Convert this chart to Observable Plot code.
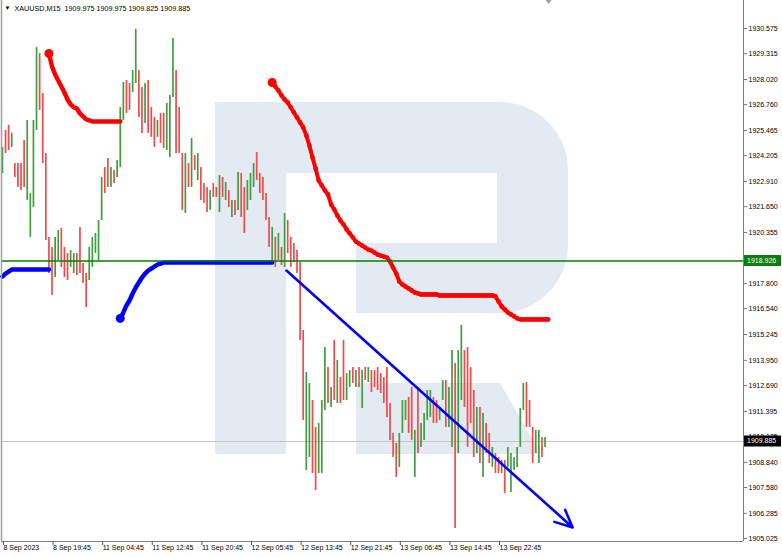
<!DOCTYPE html>
<html><head><meta charset="utf-8">
<script src="https://cdn.jsdelivr.net/npm/d3@7"></script>
<script src="https://cdn.jsdelivr.net/npm/@observablehq/plot@0.6"></script>
<style>
html,body{margin:0;padding:0;background:#fff;}
#chart{width:782px;height:557px;position:relative;}
</style></head><body><div id="chart"></div>
<script>
// ---- data ----
const symbolTitle = "XAUUSD,M15  1909.975 1909.975 1909.825 1909.885";
const xTickIndex = [0,16,32,48,64,80,96,112,128,144,160];
const xTickLabels = ["8 Sep 2023","8 Sep 19:45","11 Sep 04:45","11 Sep 12:45","11 Sep 20:45","12 Sep 05:45","12 Sep 13:45","12 Sep 21:45","13 Sep 06:45","13 Sep 14:45","13 Sep 22:45"];
const priceTicks = [1930.575,1929.315,1928.020,1926.760,1925.465,1924.205,1922.910,1921.650,1920.355,1919.095,1917.800,1916.540,1915.245,1913.950,1912.690,1911.395,1910.135,1908.840,1907.580,1906.285,1905.025];
const levelLine = 1918.926;
const lastPrice = 1909.885;

const barHigh = [
1924.62,1925.47,1925.72,1925.32,1923.81,1923.81,1923.81,1924.97,1925.97,1922.31,
1925.97,1929.62,1929.32,1927.32,1924.31,1920.11,1919.61,1920.11,1920.46,1920.56,
1919.61,1919.30,1919.45,1919.30,1919.30,1920.61,1918.80,1918.30,1919.61,1920.11,
1920.31,1920.96,1923.11,1923.61,1924.06,1923.61,1923.46,1923.96,1926.62,1927.87,
1927.97,1927.82,1928.47,1930.53,1928.47,1927.62,1927.82,1927.97,1926.62,1926.12,
1925.97,1926.32,1926.32,1926.82,1927.22,1930.08,1928.47,1926.62,1924.31,1924.31,
1923.81,1925.07,1924.21,1924.31,1923.61,1922.81,1922.61,1922.46,1922.81,1922.61,
1923.21,1923.11,1922.86,1922.46,1921.96,1921.96,1923.36,1923.31,1922.61,1922.96,
1923.31,1923.81,1924.36,1923.31,1923.11,1922.31,1921.11,1920.61,1920.11,1920.31,
1919.61,1921.31,1920.96,1920.11,1919.81,1919.45,1918.85,1915.45,1913.34,1912.79,
1911.94,1910.59,1910.79,1911.94,1914.60,1913.59,1912.59,1914.95,1913.94,1913.09,
1914.95,1913.29,1913.44,1913.59,1913.44,1913.59,1913.44,1913.59,1913.59,1913.44,
1913.44,1913.59,1913.29,1913.09,1913.59,1911.79,1910.29,1909.79,1910.29,1911.94,
1911.94,1912.09,1912.59,1910.44,1912.59,1910.79,1911.29,1912.44,1912.44,1912.09,
1911.94,1911.59,1912.94,1912.94,1912.59,1914.44,1913.79,1914.44,1915.70,1914.44,
1914.60,1913.59,1912.44,1911.59,1911.59,1911.29,1910.79,1910.29,1909.59,1909.28,
1909.08,1908.93,1908.93,1909.59,1909.28,1909.08,1909.59,1911.54,1912.79,1912.84,
1911.94,1910.59,1910.44,1910.44,1910.09,1910.09];
const barLow = [
1923.31,1924.31,1924.46,1924.62,1923.11,1922.61,1922.46,1922.61,1921.96,1920.11,
1921.61,1925.47,1926.47,1923.81,1919.96,1918.30,1917.20,1918.10,1918.95,1918.60,
1918.10,1917.95,1918.60,1918.30,1918.20,1918.30,1917.80,1916.60,1917.95,1918.60,
1919.30,1918.95,1920.96,1922.31,1922.61,1922.61,1922.81,1923.11,1923.61,1925.97,
1926.32,1926.47,1927.37,1927.82,1926.12,1925.32,1925.82,1925.32,1925.12,1924.62,
1925.12,1924.82,1924.57,1924.46,1924.11,1927.12,1924.31,1924.31,1921.46,1921.31,
1922.61,1922.61,1923.46,1922.96,1921.96,1921.81,1921.36,1921.46,1922.11,1922.11,
1921.36,1922.11,1921.96,1921.61,1921.11,1921.21,1921.46,1921.11,1920.31,1921.46,
1921.96,1922.61,1922.96,1922.31,1921.96,1920.96,1919.61,1918.80,1918.60,1918.95,
1918.70,1918.60,1919.30,1918.60,1918.85,1918.30,1914.95,1910.94,1908.43,1909.08,
1908.28,1907.43,1908.28,1908.28,1911.44,1911.79,1911.59,1911.94,1911.79,1911.79,
1911.94,1911.94,1912.59,1912.79,1912.59,1912.59,1911.54,1912.94,1912.84,1912.34,
1912.59,1912.44,1912.29,1911.79,1911.09,1909.94,1909.08,1908.08,1908.58,1910.29,
1910.94,1910.29,1909.94,1908.08,1909.28,1909.59,1909.94,1910.94,1911.09,1910.79,
1910.79,1910.94,1911.94,1910.59,1910.59,1909.59,1905.53,1909.28,1911.94,1911.59,
1909.59,1910.79,1909.08,1909.28,1908.78,1908.08,1909.28,1908.78,1908.58,1908.28,
1908.28,1908.28,1907.28,1908.58,1907.33,1908.43,1908.58,1909.59,1911.44,1910.59,
1910.59,1908.78,1909.28,1908.78,1909.08,1909.59];
const barDirection = ("GRRGRRRRGG"+"GGRRRRRGGR"+"RRGGRRRRGG"+"GGGRRGRGGG"+"RRGGRRGRRR"+
  "GRRGGGRRRG"+"RGRGRRRGRR"+"GRGRGRGRRG"+"GGRRRRRGRG"+"RGRRRRRRGG"+
  "RRGGGRGRGR"+"RGGRGRGRGR"+"RRRRRRRRGG"+"GRRGRGGGGR"+"RGGRGGRGGR"+
  "RRRGRGRRGR"+"RGRGGGGGGR"+"RRGGRG").split("");

const blueStop1Start = 0;
const blueStop1 = [1918.15,1918.30,1918.40,1918.50,1918.50,1918.50,1918.50,1918.50,1918.50,1918.50,1918.50,1918.50,1918.50,1918.50,1918.50,1918.50];
const redStop1Start = 15;
const redStop1 = [1929.32,1928.67,1928.27,1927.97,1927.67,1927.37,1927.02,1926.77,1926.62,1926.57,1926.32,1926.17,1926.02,1925.97,
  1925.92,1925.92,1925.92,1925.92,1925.92,1925.92,1925.92,1925.92,1925.92,1925.92];
const blueStop2Start = 38;
const blueStop2 = [1916.05,1916.35,1916.70,1916.95,1917.30,1917.60,1917.85,1918.10,1918.30,1918.45,1918.55,1918.65,1918.75,1918.80,1918.85,
  1918.85,1918.85,1918.85,1918.85,1918.85,1918.85,1918.85,1918.85,1918.85,1918.85,1918.85,1918.85,1918.85,1918.85,1918.85,
  1918.85,1918.85,1918.85,1918.85,1918.85,1918.85,1918.85,1918.85,1918.85,1918.85,1918.85,1918.85,1918.85,1918.85,1918.85,
  1918.85,1918.85,1918.85,1918.85,1918.85];
const redStop2Start = 87;
const redStop2 = [1927.87,1927.67,1927.47,1927.22,1927.02,1926.87,1926.62,1926.37,1926.12,1925.87,1925.62,1925.22,1924.71,1924.11,1923.56,
  1922.96,1922.71,1922.46,1922.26,1921.76,1921.51,1921.21,1920.96,1920.76,1920.51,1920.31,1920.11,1919.90,1919.80,1919.70,
  1919.60,1919.50,1919.45,1919.35,1919.25,1919.20,1919.15,1919.10,1918.90,1918.60,1918.30,1917.90,1917.75,1917.65,1917.55,
  1917.45,1917.35,1917.30,1917.25,1917.25,1917.25,1917.25,1917.25,1917.25,
  1917.20,1917.20,1917.20,1917.20,1917.20,1917.20,1917.20,1917.20,1917.20,1917.20,1917.20,1917.20,1917.20,1917.20,1917.20,1917.20,1917.20,1917.20,
  1917.15,1916.90,1916.65,1916.50,1916.35,1916.25,1916.15,1916.05,
  1916.00,1916.00,1916.00,1916.00,1916.00,1916.00,1916.00,1916.00,1916.00,1916.00];
const trendArrow = [{i1: 91.6, p1: 1918.45, i2: 183.9, p2: 1905.58}];

// ---- build tables ----
const bars = barHigh.map((h, i) => ({i, high: h, low: barLow[i], up: barDirection[i] === "G"}));
const toSeries = (start, vals) => vals.map((p, k) => ({i: start + k, p}));
const blue1 = toSeries(blueStop1Start, blueStop1);
const red1 = toSeries(redStop1Start, redStop1);
const blue2 = toSeries(blueStop2Start, blueStop2);
const red2 = toSeries(redStop2Start, redStop2);

const FONT = "Liberation Sans, Arial, sans-serif";
const chart = Plot.plot({
  width: 782, height: 557,
  marginLeft: 1, marginRight: 39, marginTop: 0, marginBottom: 16,
  style: {fontFamily: FONT, fontSize: "7px", background: "transparent", color: "#000"},
  x: {type: "linear", domain: [-0.3, 239], axis: null},
  y: {type: "linear", domain: [1904.875, 1931.978], axis: null},
  marks: [
    Plot.ruleY([lastPrice], {stroke: "#c4c4c4", strokeWidth: 1}),
    Plot.ruleX(bars, {x: "i", y1: "low", y2: "high", stroke: d => d.up ? "#3f9e3f" : "#f24a4a", strokeWidth: 1.7}),
    Plot.line(blue1, {x: "i", y: "p", stroke: "#0000ff", strokeWidth: 4.5}),
    Plot.line(blue2, {x: "i", y: "p", stroke: "#0000ff", strokeWidth: 4.5}),
    Plot.dot(blue2.slice(0, 1), {x: "i", y: "p", r: 4.5, fill: "#0000ff"}),
    Plot.line(red1, {x: "i", y: "p", stroke: "#ff0000", strokeWidth: 4.5}),
    Plot.dot(red1.slice(0, 1), {x: "i", y: "p", r: 4.5, fill: "#ff0000"}),
    Plot.line(red2, {x: "i", y: "p", stroke: "#ff0000", strokeWidth: 4}),
    Plot.dot(red2, {x: "i", y: "p", r: 2.4, fill: "#ff0000"}),
    Plot.dot(red2.slice(0, 1), {x: "i", y: "p", r: 4.5, fill: "#ff0000"}),
    Plot.ruleY([levelLine], {stroke: "#008000", strokeWidth: 1.4}),
    Plot.arrow(trendArrow, {x1: "i1", y1: "p1", x2: "i2", y2: "p2", stroke: "#0000ff", strokeWidth: 2.6, headLength: 11, headAngle: 50}),
    Plot.ruleX([-0.3], {stroke: "#a0a0a0", strokeWidth: 1.5}),
    Plot.ruleX([239], {stroke: "#808080", strokeWidth: 1}),
    Plot.ruleY([1904.875], {stroke: "#808080", strokeWidth: 1}),
    Plot.axisY({anchor: "right", ticks: priceTicks, tickFormat: d => d.toFixed(3), tickSize: 3, tickPadding: 2, fontSize: 7, stroke: "#777"}),
    Plot.axisX({anchor: "bottom", ticks: xTickIndex, tickFormat: d => xTickLabels[xTickIndex.indexOf(d)], tickSize: 4, tickPadding: 0, textAnchor: "start", dx: 1, fontSize: 7, stroke: "#555"}),
    Plot.text(["▼"], {frameAnchor: "top-left", dx: 3, dy: 7.5, fontSize: 6, lineAnchor: "middle", textAnchor: "start"}),
    Plot.text([symbolTitle], {frameAnchor: "top-left", dx: 13, dy: 8, fontSize: 7.2, lineAnchor: "middle", textAnchor: "start"})
  ]
});

// ---- decorations: watermark logo (behind) and price boxes on the axis ----
const NS = "http://www.w3.org/2000/svg";
const svgEl = chart.tagName.toLowerCase() === "svg" ? chart : chart.querySelector("svg");
const logo = document.createElementNS(NS, "path");
logo.setAttribute("d", "M215,102 H500 A68,68 0 0 1 568,170 V245 A68,68 0 0 1 500,313 H356 V243 H497 V173 H286 V454 H215 Z M356,383 H500 L541,454 H356 Z");
logo.setAttribute("fill", "#e4eaf2");
svgEl.insertBefore(logo, svgEl.firstChild.nextSibling);

const ys = chart.scale("y");
const yApply = ys.apply ? (v => ys.apply(v)) : d3.scaleLinear(ys.domain, ys.range);
const xs = chart.scale("x");
const xApply = xs.apply ? (v => xs.apply(v)) : d3.scaleLinear(xs.domain, xs.range);
function priceBox(value, fill) {
  const y = yApply(value);
  const g = document.createElementNS(NS, "g");
  const r = document.createElementNS(NS, "rect");
  r.setAttribute("x", 744); r.setAttribute("y", y - 5.5);
  r.setAttribute("width", 37); r.setAttribute("height", 11);
  r.setAttribute("fill", fill);
  const t = document.createElementNS(NS, "text");
  t.setAttribute("x", 747); t.setAttribute("y", y);
  t.setAttribute("dy", "0.32em");
  t.setAttribute("text-anchor", "start");
  t.setAttribute("fill", "#fff");
  t.setAttribute("font-size", "7px");
  t.setAttribute("font-family", FONT);
  t.textContent = value.toFixed(3);
  g.appendChild(r); g.appendChild(t);
  svgEl.appendChild(g);
}
priceBox(levelLine, "#0b7d0b");
priceBox(lastPrice, "#000000");
// chart shift marker
const sx = xApply(176.3);
const tri = document.createElementNS(NS, "path");
tri.setAttribute("d", `M${sx - 3},0 H${sx + 3} L${sx},4 Z`);
tri.setAttribute("fill", "#a0a0a0");
svgEl.appendChild(tri);

document.getElementById("chart").appendChild(chart);
</script>
</body></html>
